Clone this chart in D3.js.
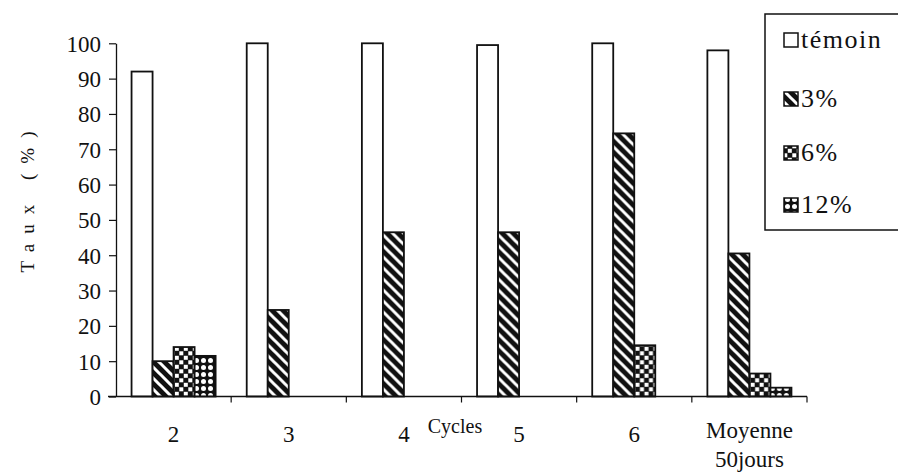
<!DOCTYPE html>
<html>
<head>
<meta charset="utf-8">
<script src="https://cdn.jsdelivr.net/npm/d3@7"></script>
<style>
  body { margin: 0; background: #fff; }
  svg text { font-family: "Liberation Serif", "Times New Roman", serif; fill: #111; }
</style>
</head>
<body>
<div id="chart"></div>
<script>
// Chart data
const categories = ["2", "3", "4", "5", "6", "Moyenne|50jours"];
const seriesNames = ["témoin", "3%", "6%", "12%"];
const temoin = [92, 100, 100, 99.5, 100, 98];
const pct3 = [10, 24.5, 46.5, 46.5, 74.5, 40.5];
const pct6 = [14, 0, 0, 0, 14.5, 6.5];
const pct12 = [11.5, 0, 0, 0, 0, 2.5];
const yTicks = [0, 10, 20, 30, 40, 50, 60, 70, 80, 90, 100];

const allSeries = [temoin, pct3, pct6, pct12];
const fills = ["#fff", "url(#hatch)", "url(#checker)", "url(#dots)"];

const W = 898, H = 473;
const svg = d3.select("#chart").append("svg")
    .attr("width", W)
    .attr("height", H);

// Patterns for the black & white fills
const defs = svg.append("defs");

const hatch = defs.append("pattern")
    .attr("id", "hatch")
    .attr("patternUnits", "userSpaceOnUse")
    .attr("width", 11).attr("height", 11);
hatch.append("rect").attr("width", 11).attr("height", 11).attr("fill", "#111");
hatch.append("path")
    .attr("d", "M-1,-1 L12,12 M-6.5,4.5 L6.5,17.5 M4.5,-6.5 L17.5,6.5")
    .attr("stroke", "#fff").attr("stroke-width", 3);

const checker = defs.append("pattern")
    .attr("id", "checker")
    .attr("patternUnits", "userSpaceOnUse")
    .attr("width", 9).attr("height", 9);
checker.append("rect").attr("width", 9).attr("height", 9).attr("fill", "#111");
checker.append("rect").attr("x", 0.3).attr("y", 0.3).attr("width", 4).attr("height", 4).attr("fill", "#fff");
checker.append("rect").attr("x", 4.8).attr("y", 4.8).attr("width", 4).attr("height", 4).attr("fill", "#fff");

const dots = defs.append("pattern")
    .attr("id", "dots")
    .attr("patternUnits", "userSpaceOnUse")
    .attr("width", 7).attr("height", 7);
dots.append("rect").attr("width", 7).attr("height", 7).attr("fill", "#111");
dots.append("circle").attr("cx", 3.5).attr("cy", 3.5).attr("r", 2.5).attr("fill", "#fff");

// Scales
const y = d3.scaleLinear().domain([0, 100]).range([396.5, 43.3]);
const x = d3.scaleBand().domain(categories).range([116, 807]).paddingInner(0).paddingOuter(0);
const xs = d3.scaleBand().domain(seriesNames).range([0, x.bandwidth()]).paddingInner(0).paddingOuter(0.74);

// Y axis
const yAxis = svg.append("g")
    .attr("transform", "translate(116,0)")
    .call(d3.axisLeft(y).tickValues(yTicks).tickSize(7).tickSizeOuter(0).tickPadding(8));
yAxis.select(".domain").attr("stroke", "#111").attr("stroke-width", 1.3);
yAxis.selectAll(".tick line").attr("stroke", "#111").attr("stroke-width", 1.2);
yAxis.selectAll(".tick text")
    .attr("font-family", "Liberation Serif, serif")
    .style("font-family", "Liberation Serif, serif")
    .style("font-size", "23px")
    .attr("dy", "0.34em")
    .attr("fill", "#111");

// Y title
svg.append("text")
    .attr("transform", "translate(34,197) rotate(-90)")
    .attr("text-anchor", "middle")
    .style("font-size", "19px")
    .style("letter-spacing", "10px")
    .text("Taux (%)");

// Bars
const groups = svg.selectAll(".grp")
    .data(categories)
    .enter().append("g")
    .attr("class", "grp")
    .attr("transform", d => `translate(${x(d)},0)`);

groups.selectAll("rect")
    .data((c, ci) => seriesNames.map((s, si) => ({s, si, v: allSeries[si][ci]})))
    .enter().append("rect")
    .attr("x", d => xs(d.s))
    .attr("y", d => y(d.v))
    .attr("width", xs.bandwidth())
    .attr("height", d => y(0) - y(d.v))
    .attr("fill", d => fills[d.si])
    .attr("stroke", "#111")
    .attr("stroke-width", 1.8);

// X axis line and category ticks
svg.append("line")
    .attr("x1", 108).attr("x2", 807)
    .attr("y1", y(0)).attr("y2", y(0))
    .attr("stroke", "#111").attr("stroke-width", 1.3);

const bounds = categories.map(c => x(c)).concat([x.range()[1]]).slice(1);
svg.selectAll(".xtick")
    .data(bounds)
    .enter().append("line")
    .attr("x1", d => d).attr("x2", d => d)
    .attr("y1", y(0)).attr("y2", y(0) + 6)
    .attr("stroke", "#111").attr("stroke-width", 1.2);

// Category labels
const labels = svg.selectAll(".xlab")
    .data(categories)
    .enter().append("text")
    .attr("text-anchor", "middle")
    .attr("x", d => x(d) + x.bandwidth() / 2)
    .attr("y", d => d.includes("|") ? 438 : 442)
    .style("font-size", "23px");
labels.each(function(d) {
    const parts = d.split("|");
    const t = d3.select(this);
    parts.forEach((p, i) => {
        t.append("tspan")
            .attr("x", x(d) + x.bandwidth() / 2)
            .attr("dy", i === 0 ? 0 : 29)
            .text(p);
    });
});

// X title
svg.append("text")
    .attr("x", 455).attr("y", 433)
    .attr("text-anchor", "middle")
    .style("font-size", "20px")
    .text("Cycles");

// Legend
const legend = svg.append("g");
legend.append("rect")
    .attr("x", 765).attr("y", 14)
    .attr("width", 150).attr("height", 216)
    .attr("fill", "#fff")
    .attr("stroke", "#111").attr("stroke-width", 1.5);

const legendY = [40, 99, 153, 205];
seriesNames.forEach((s, i) => {
    legend.append("rect")
        .attr("x", 784).attr("y", legendY[i] - 7)
        .attr("width", 14).attr("height", 14)
        .attr("fill", fills[i])
        .attr("stroke", "#111").attr("stroke-width", 1.5);
    legend.append("text")
        .attr("x", 801).attr("y", legendY[i] + 8)
        .style("font-size", "26px")
        .style("letter-spacing", "1.5px")
        .text(s);
});
</script>
</body>
</html>
